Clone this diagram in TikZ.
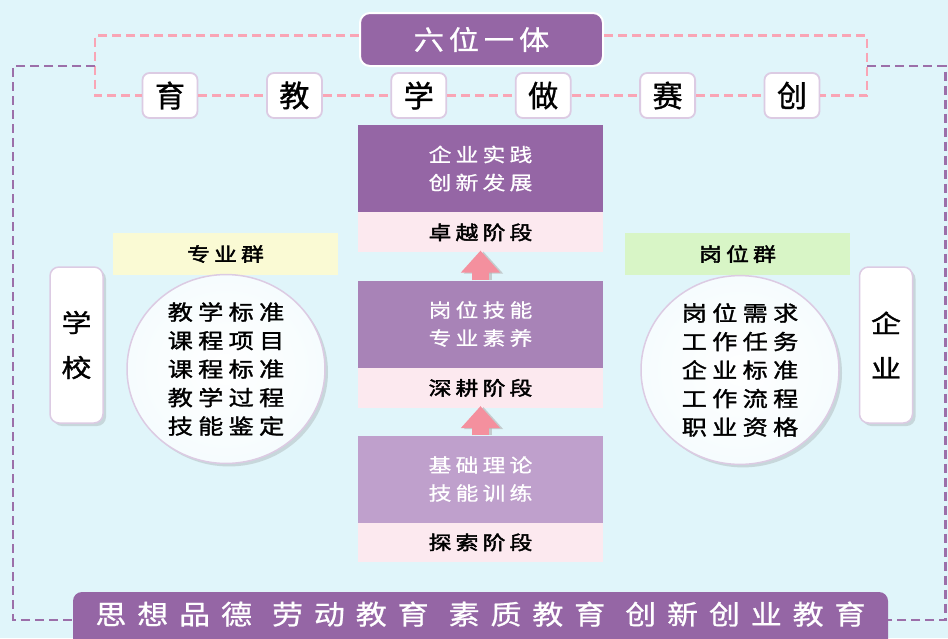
\documentclass[tikz,border=0pt]{standalone}
\usepackage{fontspec}
\setmainfont{Noto Sans CJK SC}
\newfontfamily\titlefont[FakeStretch=1.12, LetterSpace=18, FakeBold=0.8]{Noto Sans CJK SC}
\newfontfamily\charfont[FakeBold=1.2]{Noto Sans CJK SC}
\newfontfamily\stagefont[FakeStretch=1.2, LetterSpace=22, FakeBold=0.8]{Noto Sans CJK SC}
\newfontfamily\labelfont[FakeStretch=1.2, LetterSpace=22, FakeBold=2.2]{Noto Sans CJK SC}
\newfontfamily\listfont[FakeStretch=1.2, LetterSpace=25, FakeBold=1.4]{Noto Sans CJK SC}
\newfontfamily\sidefont[FakeStretch=1.2, FakeBold=1.2]{Noto Sans CJK SC}
\newfontfamily\barfont[FakeStretch=1.15, LetterSpace=40, FakeBold=0.8]{Noto Sans CJK SC}
\usepackage{tikz}
\usetikzlibrary{shapes,arrows.meta,positioning,shadows}

\definecolor{bgcyan}{HTML}{E0F5FA}
\definecolor{purA}{HTML}{9566A5}
\definecolor{purB}{HTML}{A883B7}
\definecolor{purC}{HTML}{BFA0CC}
\definecolor{pinklabel}{HTML}{FCE9EF}
\definecolor{pinkline}{HTML}{F9A5B5}
\definecolor{purline}{HTML}{9C6FA9}
\definecolor{pinkarrow}{HTML}{F4909E}
\definecolor{edgelilac}{HTML}{DCCBE3}
\definecolor{yellowbg}{HTML}{FAFAD4}
\definecolor{greenbg}{HTML}{D8F5C6}

\begin{document}
\begin{tikzpicture}[x=1pt,y=-1pt,
    titlebox/.style={fill=purA, draw=white, line width=2pt, rounded corners=10pt,
        minimum width=243pt, minimum height=53pt, text=white,
        font=\titlefont\fontsize{27pt}{30pt}\selectfont},
    charbox/.style={fill=white, draw=edgelilac, line width=1.8pt, rounded corners=7pt,
        minimum width=55pt, minimum height=45pt, inner sep=0pt,
        font=\charfont\fontsize{30pt}{30pt}\selectfont},
    stagebox/.style={minimum width=245pt, minimum height=87pt, inner sep=0pt,
        align=center, text=white, font=\stagefont\fontsize{19pt}{28pt}\selectfont},
    stagelabel/.style={fill=pinklabel, minimum width=245pt, minimum height=40pt,
        inner sep=0pt, font=\labelfont\fontsize{19pt}{24pt}\selectfont},
    blockarrow/.style={line width=17pt, -{Triangle[width=38pt,length=22pt]}},
    groupbox/.style={minimum width=225pt, minimum height=42pt, inner sep=0pt,
        font=\labelfont\fontsize{19pt}{24pt}\selectfont},
    listring/.style={ellipse, draw=edgelilac, line width=1.5pt,
        inner color=white, outer color=white!70!bgcyan,
        drop shadow={opacity=0.25, shadow xshift=3pt, shadow yshift=-3pt},
        minimum width=198pt, minimum height=170pt, inner sep=0pt, align=center,
        font=\listfont\fontsize{21pt}{28.5pt}\selectfont},
    sidebox/.style={fill=white, draw=edgelilac, line width=1.5pt, rounded corners=9pt,
        drop shadow={opacity=0.25, shadow xshift=3pt, shadow yshift=-3pt},
        minimum width=53pt, minimum height=156pt, inner sep=0pt, align=center,
        font=\sidefont\fontsize{25pt}{45pt}\selectfont},
    pinkdash/.style={pinkline, line width=2.2pt, dash pattern=on 9pt off 5pt},
    purdash/.style={purline, line width=2.5pt, dash pattern=on 9pt off 5pt}]

    % canvas
    \useasboundingbox (0,0) rectangle (948,638);
    \fill[bgcyan] (0,0) rectangle (948,638);
    \clip (0,0) rectangle (948,638);

    % Title and the six steps
    \node[titlebox] (title) at (481.5,39.5) {六位一体};
    \foreach \ch [count=\i] in {育,教,学,做,赛,创}
        \node[charbox] (k\i) at ({170+124.4*(\i-1)},95.5) {\ch};

    % Bottom bar
    \node[fill=purA, rounded corners=9pt, minimum width=815pt, minimum height=60pt,
        inner sep=0pt, text=white, font=\barfont\fontsize{27pt}{28pt}\selectfont,
        text depth=18pt] (bar) at (480.5,622)
        {思想品德\hspace{20pt}劳动教育\hspace{20pt}素质教育\hspace{20pt}创新创业教育};

    % Dashed frames
    \coordinate (pinkL) at (95,95.5);
    \coordinate (pinkR) at (867,95.5);
    \coordinate (purL) at (95,66);
    \coordinate (purR) at (867,66);
    \coordinate (loopL) at (13,66);
    \coordinate (loopR) at (945.5,66);
    \draw[pinkdash] ([yshift=4pt]title.west) -| (pinkL) -- (k1.west);
    \draw[pinkdash] ([yshift=4pt]title.east) -| (pinkR) -- (k6.east);
    \foreach \i [evaluate=\i as \j using int(\i+1)] in {1,...,5}
        \draw[pinkdash] (k\i.east) -- (k\j.west);
    \draw[purdash] (purL) -- (loopL) |- ([yshift=2pt]bar.west);
    \draw[purdash] (purR) -- (loopR) |- ([yshift=2pt]bar.east);

    % Three stages
    \node[stagebox, fill=purA] (s3) at (480.5,168.5) {企业实践\\创新发展};
    \node[stagelabel, below=0pt of s3] (l3) {卓越阶段};
    \node[stagebox, fill=purB] (s2) at (480.5,324) {岗位技能\\专业素养};
    \node[stagelabel, below=0pt of s2] (l2) {深耕阶段};
    \node[stagebox, fill=purC] (s1) at (480.5,479) {基础理论\\技能训练};
    \node[stagelabel, below=0pt of s1, minimum height=39pt] (l1) {探索阶段};

    % Arrows between stages
    \draw[blockarrow, black!30, opacity=0.6] ([xshift=3pt]s2.north) -- ([xshift=3pt,yshift=1pt]l3.south);
    \draw[blockarrow, pinkarrow] (s2.north) -- ([yshift=2pt]l3.south);
    \draw[blockarrow, black!30, opacity=0.6] ([xshift=3pt]s1.north) -- ([xshift=3pt,yshift=1pt]l2.south);
    \draw[blockarrow, pinkarrow] (s1.north) -- ([yshift=2pt]l2.south);

    % School side
    \node[groupbox, fill=yellowbg] (majors) at (225.5,254) {专业群};
    \node[listring] (majorlist) at (226,369)
        {教学标准\\课程项目\\课程标准\\教学过程\\技能鉴定};
    \node[sidebox] (school) at (76.5,345) {学\\校};

    % Enterprise side
    \node[groupbox, fill=greenbg] (posts) at (737.5,254) {岗位群};
    \node[listring] (postlist) at (740,370)
        {岗位需求\\工作任务\\企业标准\\工作流程\\职业资格};
    \node[sidebox] (firm) at (886,345) {企\\业};

\end{tikzpicture}
\end{document}
